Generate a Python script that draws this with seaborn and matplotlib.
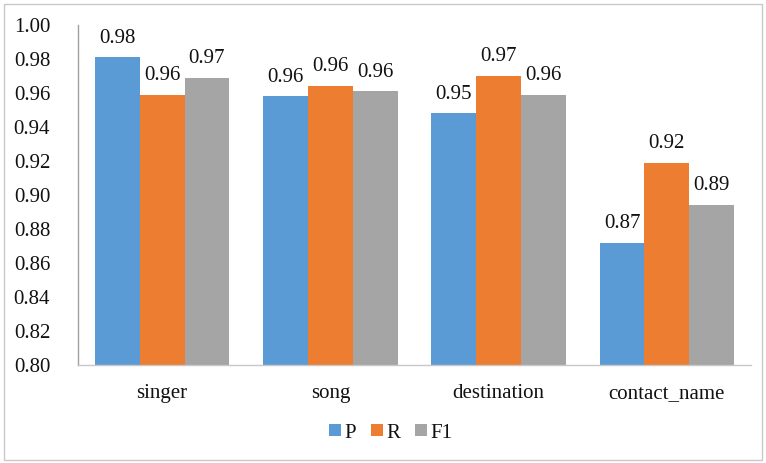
import numpy as np
import pandas as pd
import matplotlib
matplotlib.use("Agg")
import matplotlib.pyplot as plt
import seaborn as sns
from matplotlib.patches import Rectangle
from matplotlib import font_manager

categories = ["singer", "song", "destination", "contact_name"]
P_vals = [0.981, 0.958, 0.948, 0.872]
R_vals = [0.959, 0.964, 0.970, 0.919]
F1_vals = [0.969, 0.961, 0.959, 0.894]
series_names = ["P", "R", "F1"]
label_texts = {
    "P": ["0.98", "0.96", "0.95", "0.87"],
    "R": ["0.96", "0.96", "0.97", "0.92"],
    "F1": ["0.97", "0.96", "0.96", "0.89"],
}
yticks = [0.80, 0.82, 0.84, 0.86, 0.88, 0.90, 0.92, 0.94, 0.96, 0.98, 1.00]

colors = ["#5B9BD5", "#ED7D31", "#A5A5A5"]

df = pd.DataFrame({
    "category": categories * 3,
    "series": ["P"] * 4 + ["R"] * 4 + ["F1"] * 4,
    "value": P_vals + R_vals + F1_vals,
})

sns.set_theme(style="white")
serif_names = sorted({f.name for f in font_manager.fontManager.ttflist if "Serif" in f.name})
fam = "Liberation Serif" if "Liberation Serif" in serif_names else "DejaVu Serif"
plt.rcParams["font.family"] = "serif"
plt.rcParams["font.serif"] = [fam, "DejaVu Serif"]

FS = 15
fig = plt.figure(figsize=(7.66, 4.63), dpi=100)
ax = fig.add_axes([78 / 766, 1 - 365 / 463, (751 - 78) / 766, (365 - 25) / 463])

sns.barplot(data=df, x="category", y="value", hue="series", hue_order=series_names,
            order=categories, palette=colors, width=0.8, saturation=1, ax=ax,
            edgecolor="none", linewidth=0)

ax.set_ylim(0.80, 1.00)
ax.set_yticks(yticks)
ax.set_yticklabels([f"{t:.2f}" for t in yticks], fontsize=FS)
ax.tick_params(axis="x", labelsize=FS, length=0, pad=14, colors="#111111")
ax.tick_params(axis="y", length=0, pad=20, colors="#111111")
ax.set_xlabel("")
ax.set_ylabel("")

for s in ["top", "right"]:
    ax.spines[s].set_visible(False)
ax.spines["left"].set_color("#A0A0A0")
ax.spines["bottom"].set_color("#C8C8C8")
ax.spines["left"].set_linewidth(1.0)
ax.spines["bottom"].set_linewidth(1.0)

for cont, name in zip(ax.containers, series_names):
    ax.bar_label(cont, labels=label_texts[name], padding=7, fontsize=FS, color="#111111")

leg = ax.legend(loc="center", bbox_to_anchor=((391 - 78) / 673, -(433 - 365) / 340), ncol=3,
                frameon=False, fontsize=FS, handlelength=0.55, handleheight=0.55,
                handletextpad=0.2, columnspacing=0.7)
for t in leg.get_texts():
    t.set_color("#111111")

fig.patches.append(Rectangle((4 / 766, 3 / 463), 758 / 766, 456 / 463, transform=fig.transFigure,
                             fill=False, edgecolor="#C8C8C8", linewidth=1.0))

fig.savefig("out.png", dpi=100)
